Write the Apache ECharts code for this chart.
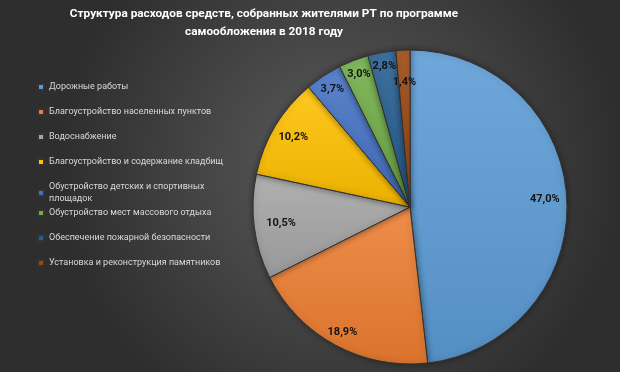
<!DOCTYPE html>
<html><head><meta charset="utf-8">
<script src="https://cdn.jsdelivr.net/npm/echarts@6/dist/echarts.min.js"></script>
<style>html,body{margin:0;padding:0;background:#444}#c{width:620px;height:372px}</style>
</head><body><div id="c"></div>
<script>
const titleText = 'Структура расходов средств, собранных жителями РТ по программе\nсамообложения в 2018 году';
const categories = ['Дорожные работы','Благоустройство населенных пунктов','Водоснабжение','Благоустройство и содержание кладбищ','Обустройство детских и спортивных площадок','Обустройство мест массового отдыха','Обеспечение пожарной безопасности','Установка и реконструкция памятников'];
const values = [47.0, 18.9, 10.5, 10.2, 3.7, 3.0, 2.8, 1.4];
const colors = ['#5B9BD5','#ED7D31','#A5A5A5','#FFC000','#4472C4','#70AD47','#255E91','#9E480E'];
// label distance from the pie centre (px), per slice, as placed in the original
const labelRadius = [135, 142, 130, 136, 141, 142, 143, 125];

function shade(hex, f){
  const n=parseInt(hex.slice(1),16);let r=n>>16,g=(n>>8)&255,b=n&255;
  const m=c=>Math.max(0,Math.min(255,Math.round(f>0?c+(255-c)*f:c*(1+f))));
  return 'rgb('+m(r)+','+m(g)+','+m(b)+')';
}
const fmt = v => v.toFixed(1).replace('.', ',') + '%';
const wrapAt = 36;
function wrap(name){
  if(name.length<=wrapAt) return name;
  const k=name.lastIndexOf(' ', wrapAt);
  return name.slice(0,k)+'\n'+name.slice(k+1);
}
const CX=410, CY=207, R=157, RL=100;
const mainData = categories.map((n,i)=>({name:n,value:values[i],itemStyle:{color:{type:'linear',x:0,y:0,x2:0,y2:1,colorStops:[{offset:0,color:shade(colors[i],0.12)},{offset:1,color:shade(colors[i],-0.08)}]}}}));
const labelData = categories.map((n,i)=>({name:n,value:values[i]}));
const legendText = {color:'#d9d9d9',fontSize:9,fontFamily:'Roboto',lineHeight:12};
const legendBase = {orient:'vertical',left:32,itemWidth:6,itemHeight:6,icon:'rect',itemGap:13,formatter:wrap,textStyle:legendText};
const legendItems = categories.map((n,i)=>({name:n,itemStyle:{color:colors[i]}}));

const chart = echarts.init(document.getElementById('c'));
chart.setOption({
  animation:false,
  backgroundColor:{type:'radial',x:0.55,y:0.45,r:0.75,colorStops:[{offset:0,color:'#5c5c5c'},{offset:1,color:'#2e2e2e'}]},
  color: colors,
  title:{text:titleText,left:259,top:0,textAlign:'center',textStyle:{color:'#ffffff',fontSize:11.8,fontWeight:'bold',fontFamily:'Roboto',lineHeight:18}},
  legend:[
    Object.assign({top:76,data:legendItems.slice(0,5)},legendBase),
    Object.assign({top:202,data:legendItems.slice(5)},legendBase)
  ],
  series:[
    {type:'pie',center:[CX,CY],radius:[0,R],startAngle:90,clockwise:true,data:mainData,
     label:{show:false},labelLine:{show:false},
     itemStyle:{borderColor:'#333',borderWidth:1,shadowBlur:6,shadowColor:'rgba(0,0,0,0.4)'}},
    {type:'pie',center:[CX,CY],radius:[0,RL],startAngle:90,clockwise:true,data:labelData,silent:true,
     legendHoverLink:false,avoidLabelOverlap:false,minShowLabelAngle:0,
     itemStyle:{color:'rgba(0,0,0,0)',borderWidth:0},
     label:{show:true,position:'outside',alignTo:'none',distanceToLabelLine:0,overflow:'none',
       color:'#141414',fontSize:11,fontWeight:'bold',fontFamily:'Roboto',formatter:p=>fmt(p.value)},
     labelLine:{show:true,length:0,length2:0,lineStyle:{width:0,opacity:0}},
     labelLayout:function(p){
       const o={align:'center',verticalAlign:'middle'};
       const pt=p.labelLinePoints&&p.labelLinePoints[0];
       if(pt){const k=labelRadius[p.dataIndex]/RL;o.x=CX+(pt[0]-CX)*k;o.y=CY+(pt[1]-CY)*k;}
       return o;
     }}
  ]
});
</script></body></html>
